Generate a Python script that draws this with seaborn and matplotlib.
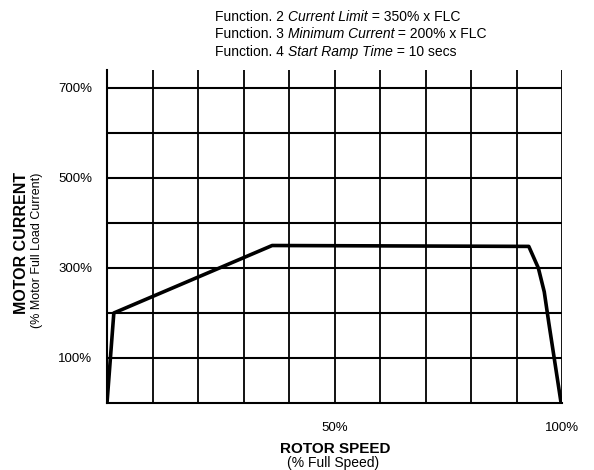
import matplotlib
matplotlib.use("Agg")
import matplotlib.pyplot as plt
import seaborn as sns
import pandas as pd

# Data
rotor_speed = [0, 1.5, 36.3, 92.7, 94.8, 96.1, 97.1, 99.8]
motor_current = [0, 200, 350, 348, 300, 247, 178, 0]

x_ticks = list(range(10, 101, 10))
x_tick_labels = ['' if t not in (50, 100) else f'{t}%' for t in x_ticks]
y_ticks = list(range(100, 701, 100))
y_tick_labels = [f'{t}%' if t in (100, 300, 500, 700) else '' for t in y_ticks]

notes = [
    ("Function. 2 ", "Current Limit", " = 350% x FLC"),
    ("Function. 3 ", "Minimum Current", " = 200% x FLC"),
    ("Function. 4 ", "Start Ramp Time", " = 10 secs"),
]

df = pd.DataFrame({'speed': rotor_speed, 'current': motor_current})

sns.set_style("white")
plt.rcParams['font.family'] = ['Liberation Sans', 'DejaVu Sans']
plt.rcParams['text.color'] = 'black'
plt.rcParams['xtick.color'] = 'black'
plt.rcParams['ytick.color'] = 'black'

fig = plt.figure(figsize=(5.94, 4.70), dpi=100)
ax = fig.add_axes([107/594, 67/470, 455/594, 333/470])

# Grid
for t in y_ticks:
    ax.axhline(t, color='black', lw=1.5, zorder=1)
for t in x_ticks:
    ax.axvline(t, color='black', lw=1.3, zorder=1)

sns.lineplot(data=df, x='speed', y='current', color='black', lw=2.6,
             sort=False, ax=ax, zorder=3)

ax.set_xlim(0, 100)
ax.set_ylim(0, 740)
ax.set_xticks(x_ticks)
ax.set_xticklabels(x_tick_labels, fontsize=9.5)
ax.set_yticks(y_ticks)
ax.set_yticklabels(y_tick_labels, fontsize=9.5)
ax.tick_params(axis='x', direction='out', length=7, width=1.5, pad=6.5,
               color='black', labelcolor='black')
ax.tick_params(axis='y', direction='out', length=7, width=1.3, pad=3.5,
               color='black', labelcolor='black')

for side in ['top', 'right']:
    ax.spines[side].set_visible(False)
ax.spines['left'].set_color('black')
ax.spines['left'].set_linewidth(1.5)
ax.spines['bottom'].set_color('black')
ax.spines['bottom'].set_linewidth(1.5)

ax.set_xlabel('')
ax.set_ylabel('')

# Axis titles
fig.text(335/594, 1 - 449/470, 'ROTOR SPEED', ha='center', va='center',
         fontsize=11, fontweight='bold')
fig.text(333/594, 1 - 463/470, '(% Full Speed)', ha='center', va='center',
         fontsize=10)
fig.text(22/594, 1 - 243/470, 'MOTOR CURRENT', ha='center', va='center',
         fontsize=11.5, fontweight='bold', rotation=90)
fig.text(37/594, 1 - 250/470, '(% Motor Full Load Current)', ha='center',
         va='center', fontsize=9, rotation=90)

# Settings notes at the top
y0 = 17
for i, (a, b, c) in enumerate(notes):
    y = 1 - (y0 + i * 17.5) / 470
    t1 = fig.text(215/594, y, a, ha='left', va='center', fontsize=10)
    fig.canvas.draw()
    bb = t1.get_window_extent()
    t2 = fig.text(bb.x1/594, y, b, ha='left', va='center', fontsize=10,
                  style='italic')
    fig.canvas.draw()
    bb = t2.get_window_extent()
    fig.text(bb.x1/594, y, c, ha='left', va='center', fontsize=10)

fig.savefig('out.png', dpi=100)
